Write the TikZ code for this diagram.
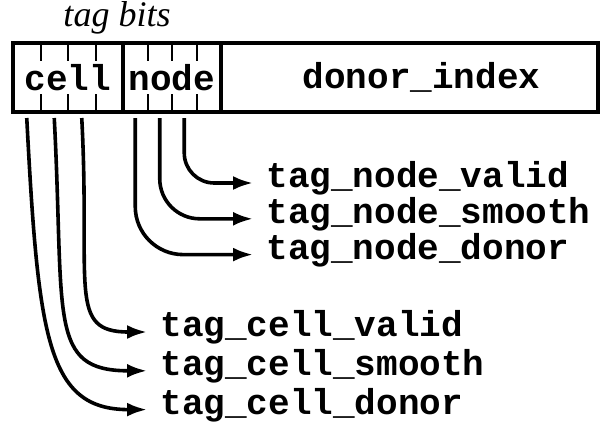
\documentclass[tikz,border=0pt]{standalone}
\usepackage{fontspec}
\setmainfont{Liberation Serif}
\setmonofont{Liberation Mono}
\usetikzlibrary{positioning,calc,arrows.meta}

\begin{document}
\begin{tikzpicture}[x=0.5pt, y=0.5pt,
    field/.style={draw, line width=1.8pt, outer sep=0pt, inner sep=0pt,
      minimum height=34.5pt, font=\fontsize{18}{20}\selectfont\ttfamily\bfseries},
    bittick/.style={line width=1pt},
    flag/.style={font=\fontsize{18}{20}\selectfont\ttfamily\bfseries,
      inner xsep=6.5pt, inner ysep=0pt, text height=12pt, text depth=3pt},
    tagarrow/.style={line width=1.8pt, -{Latex[length=10pt,width=7pt]}}]
        \useasboundingbox (0,0) rectangle (603,425);

        % FIELDS
        % -----------------
        \node[field, minimum width=55pt, anchor=south west] (cellbits) at (13,313) {cell};
        \node[field, minimum width=49pt, right=0pt of cellbits] (nodebits) {node};
        \node[field, minimum width=188.5pt, right=0pt of nodebits] (donor) {\hspace{12pt}donor\_index};
        \node[font=\fontsize{18}{20}\selectfont\itshape, anchor=base] (tagbits)
          at ($(cellbits.north west)!0.5!(nodebits.north east)+(0,17)$) {tag bits};

        % bit ticks and bit points
        \foreach \f/\b in {cellbits/cb,nodebits/nb} {
          \foreach \p in {0.25,0.5,0.75} {
            \draw[bittick] ($(\f.north west)!\p!(\f.north east)$) -- ++(0,-18);
            \draw[bittick] ($(\f.south west)!\p!(\f.south east)$) -- ++(0,18);
          }
          \foreach \p/\n in {0.125/1,0.375/2,0.625/3}
            \coordinate (\b\n) at ($(\f.south west)!\p!(\f.south east)+(0,-6)$);
        }

        % LABELS
        % -----------------
        \node[flag, anchor=mid west] (nvalid) at (253,242) {tag\_node\_valid};
        \node[flag, below=2.5pt of nvalid.south west, anchor=north west] (nsmooth) {tag\_node\_smooth};
        \node[flag, below=2.5pt of nsmooth.south west, anchor=north west] (ndonor) {tag\_node\_donor};

        \node[flag, anchor=mid west] (cvalid) at (147,93) {tag\_cell\_valid};
        \node[flag, below=4pt of cvalid.south west, anchor=north west] (csmooth) {tag\_cell\_smooth};
        \node[flag, below=4pt of csmooth.south west, anchor=north west] (cdonor) {tag\_cell\_donor};

        % EDGES
        % -----------------
        \draw[tagarrow, rounded corners=15pt] (nb3) |- (nvalid.mid west);
        \draw[tagarrow, rounded corners=20pt] (nb2) |- (nsmooth.mid west);
        \draw[tagarrow, rounded corners=24pt] (nb1) |- (ndonor.mid west);

        \draw[tagarrow] (cb3) to[out=-87, in=180, out distance=85pt, in distance=40pt] (cvalid.mid west);
        \draw[tagarrow] (cb2) to[out=-87, in=180, out distance=100pt, in distance=50pt] (csmooth.mid west);
        \draw[tagarrow] (cb1) to[out=-87, in=180, out distance=110pt, in distance=50pt] (cdonor.mid west);

\end{tikzpicture}
\end{document}
